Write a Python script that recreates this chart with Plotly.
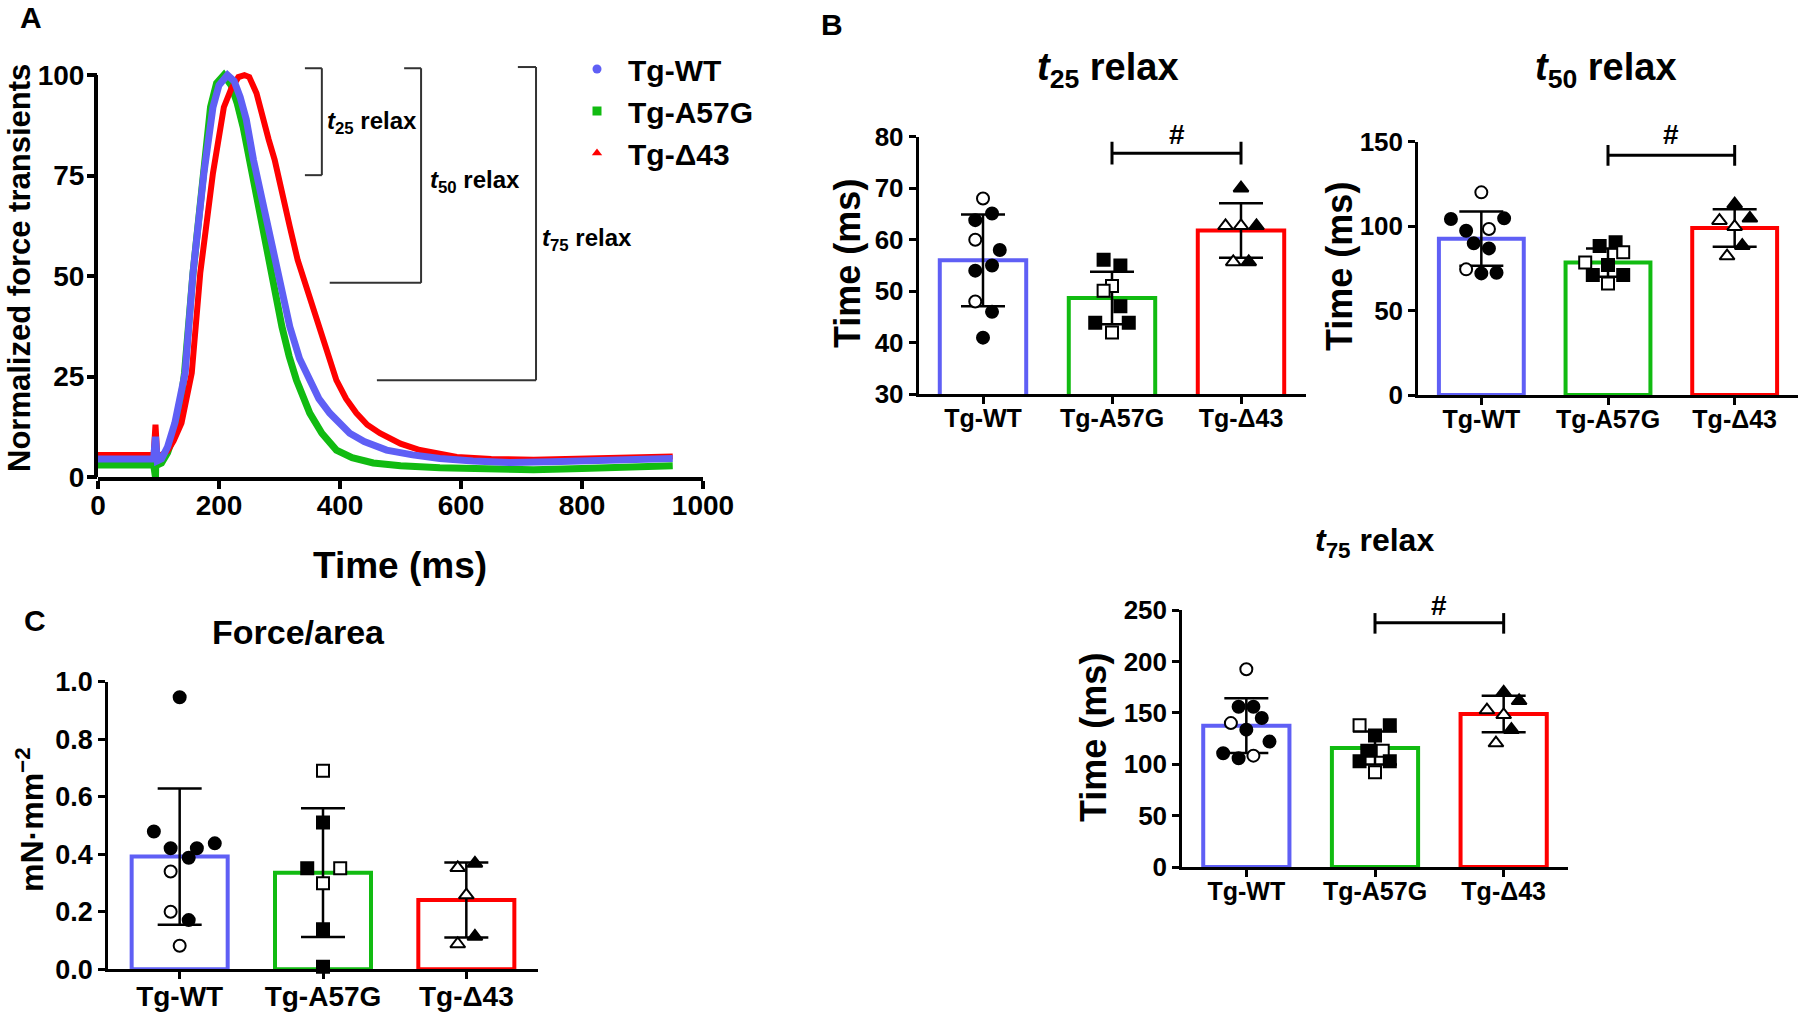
import plotly.graph_objects as go

W, H = 1800, 1012
FONT = "Liberation Sans, Arial, sans-serif"

groups = ["Tg-WT", "Tg-A57G", "Tg-Δ43"]
colors = ["#5F5FF5", "#11BB11", "#FF0000"]
symbols = ["circle", "square", "triangle-up"]

# ---------------- Panel A: normalized force transients ----------------
wt_time = [0, 50, 92, 95, 98, 105, 115, 127, 144, 157, 175, 190, 200, 214, 225, 235, 245, 257, 270, 281,
           291, 301, 317, 333, 350, 365, 383, 400, 416, 440, 477, 520, 565, 620, 680, 750, 850, 950]
wt_force = [4.5, 4.5, 4.5, 10, 4, 4.5, 7.5, 13.4, 25.9, 50.7, 75.6, 92, 97.5, 100, 98.5, 94.5, 89, 78.9, 70, 62.3,
            55, 48.3, 37.4, 29.5, 24.1, 19.5, 15.9, 13.2, 10.9, 8.8, 6.7, 5.5, 4.6, 4.0, 3.6, 3.8, 4.3, 4.6]

a57g_time = [0, 50, 92, 95, 96, 98, 105, 115, 132, 143, 157, 173, 186, 196, 208, 220, 230, 240, 253, 263,
             273, 289, 304, 316, 328, 350, 370, 394, 420, 455, 500, 565, 650, 720, 800, 880, 950]
a57g_force = [3, 3, 3, 0, 7, 3, 3.5, 6, 13.4, 25.9, 50.7, 75.6, 92, 98, 100, 97.5, 93, 87, 77, 69,
              62.3, 48.3, 37.4, 30, 24.1, 15.9, 10.9, 6.7, 4.8, 3.5, 2.8, 2.3, 1.9, 1.8, 2.1, 2.5, 2.8]

d43_time = [0, 50, 92, 95, 98, 105, 115, 125, 138, 155, 169, 190, 208, 220, 232, 242, 250, 262, 272, 282,
            292, 305, 317, 330, 342, 353, 364, 380, 394, 410, 427, 445, 466, 500, 532, 593, 650, 720, 800, 880, 950]
d43_force = [5.5, 5.5, 5.5, 13, 5, 5.5, 6.5, 9, 13.4, 25.9, 50.7, 75.6, 92, 96.5, 99.5, 100, 99.5, 95.5, 89, 84,
             78.9, 71, 62.3, 54, 48.3, 42.5, 37.4, 30, 24.1, 19.5, 15.9, 13, 10.9, 8.3, 6.7, 5, 4.5, 4.3, 4.5, 4.8, 5.1]

# relaxation brackets: [x_left_top, x_vertical, x_left_bottom, y_top, y_bottom]
bracket_t25 = [342, 370, 342, 101.7, 75.1]
bracket_t50 = [506, 534, 383, 101.7, 48.3]
bracket_t75 = [694, 724, 461, 102.0, 24.1]
bracket_labels = ["25", "50", "75"]
bracket_label_pos = [[375, 88.3], [545, 73.4], [731, 59.2]]

# ---------------- Panel B: t25 relax ----------------
t25_mean = [56.0, 48.7, 61.8]
t25_sd = [8.9, 5.1, 5.3]
t25_wt = [68, 65.1, 63.8, 60, 58, 55, 54, 48, 46, 41]
t25_a57g = [56.1, 55, 51, 50.1, 47.1, 43.9, 43.9, 42]
t25_d43 = [70, 62.7, 62.7, 62.7, 55.7, 55.7]
t25_open = [[1, 0, 0, 1, 0, 0, 0, 1, 0, 0], [0, 0, 1, 1, 0, 0, 0, 1], [0, 1, 1, 0, 1, 0]]
t25_dx = [[0, 0.07, -0.06, -0.06, 0.13, 0.07, -0.06, -0.06, 0.07, 0],
          [-0.065, 0.065, 0, -0.065, 0.065, -0.13, 0.13, 0],
          [0, -0.12, 0, 0.12, -0.06, 0.06]]
t25_sig = [76.8, 74.6, 79.0]

# ---------------- Panel B: t50 relax ----------------
t50_mean = [92.6, 78.4, 98.9]
t50_sd = [16.1, 8.4, 11.1]
t50_wt = [120, 104.2, 104.6, 97.3, 98.3, 89.8, 86.8, 74.4, 72, 72.4]
t50_a57g = [88.2, 90.4, 84.5, 78.4, 77, 71, 71, 66.1]
t50_d43 = [113, 103.2, 104.6, 99.7, 88.4, 82.3]
t50_open = [[1, 0, 0, 0, 1, 0, 0, 1, 0, 0], [0, 0, 1, 1, 0, 0, 0, 1], [0, 1, 0, 1, 0, 1]]
t50_dx = [[0, -0.24, 0.18, -0.12, 0.06, -0.06, 0.06, -0.12, 0, 0.12],
          [-0.066, 0.06, 0.12, -0.18, 0, -0.12, 0.12, 0],
          [0, -0.12, 0.12, 0, 0.06, -0.06]]
t50_sig = [142, 135.8, 148]

# ---------------- Panel B: t75 relax ----------------
t75_mean = [137.5, 115.8, 148.8]
t75_sd = [26.7, 16.0, 17.8]
t75_wt = [192.4, 155.9, 155.9, 145, 140, 133.6, 122, 110.6, 105.8, 108.3]
t75_a57g = [138, 138, 127.8, 113.2, 113.2, 102.8, 102.8, 92.2]
t75_d43 = [169.8, 161.7, 152.7, 148, 133.6, 120.6]
t75_open = [[1, 0, 0, 0, 1, 0, 0, 0, 0, 1], [1, 0, 0, 0, 1, 0, 0, 1], [0, 0, 1, 1, 0, 1]]
t75_dx = [[0, -0.06, 0.055, 0.12, -0.12, 0, 0.18, -0.18, -0.06, 0.055],
          [-0.12, 0.115, 0, -0.06, 0.06, -0.12, 0.115, 0],
          [0, 0.12, -0.13, 0, 0.06, -0.06]]
t75_sig = [237.7, 227, 247]

# ---------------- Panel C: Force/area ----------------
fa_mean = [0.392, 0.336, 0.241]
fa_sd = [0.237, 0.224, 0.13]
fa_wt = [0.946, 0.479, 0.438, 0.421, 0.421, 0.388, 0.34, 0.2, 0.171, 0.082]
fa_a57g = [0.69, 0.51, 0.351, 0.351, 0.299, 0.139, 0.009]
fa_d43 = [0.353, 0.368, 0.258, 0.114, 0.088]
fa_open = [[0, 0, 0, 0, 0, 0, 1, 1, 0, 1], [1, 0, 0, 1, 1, 0, 0], [1, 0, 1, 0, 1]]
fa_dx = [[0, -0.18, 0.245, -0.063, 0.12, 0.063, -0.063, -0.063, 0.063, 0],
         [0, 0, -0.11, 0.12, 0, 0, 0],
         [-0.06, 0.06, 0, 0.06, -0.06]]

# =====================================================================
fig = go.Figure()
layout = {}
shapes = []
annotations = []


def fnt(size, weight="bold", color="black"):
    return dict(family=FONT, size=size, color=color, weight=weight)


def ann(text, xpx, ypx, size, angle=0, xanchor="center", yanchor="middle"):
    annotations.append(dict(text=text, x=xpx / W, y=1 - ypx / H, xref="paper", yref="paper",
                            showarrow=False, font=fnt(size), textangle=angle,
                            xanchor=xanchor, yanchor=yanchor))


# ---------- Panel A ----------
A_X = (98, 703)
A_Y = (59, 477)  # top (y=104), bottom (y=0)
layout["xaxis"] = dict(domain=[A_X[0] / W, A_X[1] / W], anchor="y", range=[0, 1000], dtick=200,
                       showline=True, linewidth=4, linecolor="black", ticks="outside", ticklen=8,
                       tickwidth=3.5, tickcolor="black", tickfont=fnt(28), showgrid=False,
                       zeroline=False, automargin=False, ticklabelstandoff=-8)
layout["yaxis"] = dict(domain=[1 - A_Y[1] / H, 1 - A_Y[0] / H], anchor="x", range=[0, 104],
                       tickvals=[0, 25, 50, 75, 100], showline=False, ticks="outside", ticklen=10,
                       tickwidth=3.5, tickcolor="black", tickfont=fnt(28), showgrid=False,
                       zeroline=False, automargin=False, ticklabelstandoff=-3)
# y spine only up to 100
shapes.append(dict(type="line", xref="paper", yref="y", x0=(A_X[0] - 2) / W, x1=(A_X[0] - 2) / W,
                   y0=-1, y1=100, line=dict(color="black", width=4)))

for t, f, c, w in [(a57g_time, a57g_force, colors[1], 7), (d43_time, d43_force, colors[2], 6),
                   (wt_time, wt_force, colors[0], 7)]:
    fig.add_trace(go.Scatter(x=t, y=f, mode="lines", line=dict(color=c, width=w),
                             showlegend=False, xaxis="x", yaxis="y", hoverinfo="skip"))

for i, g in enumerate(groups):
    fig.add_trace(go.Scatter(x=[None], y=[None], mode="markers", name=g,
                             marker=dict(symbol=symbols[i], color=colors[i], size=9),
                             xaxis="x", yaxis="y", showlegend=True))

for br in [bracket_t25, bracket_t50, bracket_t75]:
    xl_top, xv, xl_bot, yt, yb = br
    ln = dict(color="#333333", width=2)
    shapes.append(dict(type="line", xref="x", yref="y", x0=xl_top, x1=xv, y0=yt, y1=yt, line=ln))
    shapes.append(dict(type="line", xref="x", yref="y", x0=xv, x1=xv, y0=yt, y1=yb, line=ln))
    shapes.append(dict(type="line", xref="x", yref="y", x0=xl_bot, x1=xv, y0=yb, y1=yb, line=ln))

for lab, (bx, by) in zip(bracket_labels, bracket_label_pos):
    annotations.append(dict(text=f"<i>t</i><sub>{lab}</sub> relax", x=bx, y=by, xref="x", yref="y",
                            showarrow=False, xanchor="left", yanchor="middle", font=fnt(24)))

ann("Normalized force transients", 19, 268, 31, angle=-90)
ann("Time (ms)", 400, 565, 37)

# ---------- bar panels ----------
bar_panels = [
    dict(n=2, mean=t25_mean, sd=t25_sd, vals=[t25_wt, t25_a57g, t25_d43], op=t25_open, dx=t25_dx,
         xpx=(918.5, 1305.5), ypx=(136.7, 394.3), yr=[30, 80], dtick=10, sig=t25_sig, sigshift=19,
         tf=26, cf=25, title="<i>t</i><sub>25</sub> relax", tsize=38, tpos=(1108, 70),
         ytitle="Time (ms)", ytpos=(847, 264), ytsize=36),
    dict(n=3, mean=t50_mean, sd=t50_sd, vals=[t50_wt, t50_a57g, t50_d43], op=t50_open, dx=t50_dx,
         xpx=(1418, 1798), ypx=(141.7, 395), yr=[0, 150], dtick=50, sig=t50_sig, sigshift=21,
         tf=26, cf=25, title="<i>t</i><sub>50</sub> relax", tsize=38, tpos=(1606, 70),
         ytitle="Time (ms)", ytpos=(1340, 267), ytsize=36),
    dict(n=4, mean=t75_mean, sd=t75_sd, vals=[t75_wt, t75_a57g, t75_d43], op=t75_open, dx=t75_dx,
         xpx=(1182, 1568), ypx=(610, 867), yr=[0, 250], dtick=50, sig=t75_sig, sigshift=17,
         tf=26, cf=25, title="<i>t</i><sub>75</sub> relax", tsize=32, tpos=(1374, 542),
         ytitle="Time (ms)", ytpos=(1093, 738), ytsize=36),
    dict(n=5, mean=fa_mean, sd=fa_sd, vals=[fa_wt, fa_a57g, fa_d43], op=fa_open, dx=fa_dx,
         xpx=(108, 538), ypx=(681.7, 969.3), yr=[0, 1.0], dtick=0.2, sig=None, sigshift=0,
         tf=27, cf=28, title="Force/area", tsize=34, tpos=(298, 632),
         ytitle="mN·mm<sup>−2</sup>", ytpos=(30, 820), ytsize=32),
]

for p in bar_panels:
    n = p["n"]
    xa, ya = f"x{n}", f"y{n}"
    layout[f"xaxis{n}"] = dict(domain=[p["xpx"][0] / W, p["xpx"][1] / W], anchor=ya, range=[-0.5, 2.5],
                               tickvals=[0, 1, 2], ticktext=groups, showline=True, linewidth=2.5,
                               linecolor="black", ticks="outside", ticklen=7, tickwidth=2.5,
                               tickcolor="black", tickfont=fnt(p["cf"]), showgrid=False,
                               zeroline=False, automargin=False, ticklabelstandoff=-7)
    ytick_fmt = ".1f" if n == 5 else ""
    layout[f"yaxis{n}"] = dict(domain=[1 - p["ypx"][1] / H, 1 - p["ypx"][0] / H], anchor=xa,
                               range=p["yr"], dtick=p["dtick"], tickformat=ytick_fmt, showline=True,
                               linewidth=2.5, linecolor="black", ticks="outside", ticklen=7,
                               tickwidth=2.5, tickcolor="black", tickfont=fnt(p["tf"]),
                               showgrid=False, zeroline=False, automargin=False)
    fig.add_trace(go.Bar(x=[0, 1, 2], y=p["mean"], width=0.67,
                         marker=dict(color="white", line=dict(color=colors, width=4)),
                         error_y=dict(type="data", array=p["sd"], color="black", thickness=2.5, width=22),
                         xaxis=xa, yaxis=ya, showlegend=False, hoverinfo="skip"))
    for g in range(3):
        fig.add_trace(go.Scatter(
            x=[g + d for d in p["dx"][g]], y=p["vals"][g], mode="markers",
            marker=dict(symbol=symbols[g], size=12 if g != 2 else 13,
                        color=["white" if o else "black" for o in p["op"][g]],
                        line=dict(color="black", width=2)),
            cliponaxis=False, xaxis=xa, yaxis=ya, showlegend=False, hoverinfo="skip"))
    if p["sig"] is not None:
        yl, lo, hi = p["sig"]
        ln = dict(color="black", width=3)
        shapes.append(dict(type="line", xref=xa, yref=ya, x0=1, x1=2, y0=yl, y1=yl, line=ln))
        shapes.append(dict(type="line", xref=xa, yref=ya, x0=1, x1=1, y0=lo, y1=hi, line=ln))
        shapes.append(dict(type="line", xref=xa, yref=ya, x0=2, x1=2, y0=lo, y1=hi, line=ln))
        annotations.append(dict(text="#", x=1.5, y=yl, xref=xa, yref=ya, showarrow=False,
                                yshift=p["sigshift"], yanchor="middle", font=fnt(28)))
    ann(p["title"], p["tpos"][0], p["tpos"][1], p["tsize"])
    ann(p["ytitle"], p["ytpos"][0], p["ytpos"][1], p["ytsize"], angle=-90)

# panel letters
ann("A", 31, 17, 30)
ann("B", 832, 25, 30)
ann("C", 35, 620, 30)

fig.update_layout(
    width=W, height=H, margin=dict(l=0, r=0, t=0, b=0, pad=0, autoexpand=False),
    paper_bgcolor="white", plot_bgcolor="white",
    font=dict(family=FONT, color="black"),
    shapes=shapes, annotations=annotations,
    legend=dict(x=566 / W, y=1 - 43 / H, xanchor="left", yanchor="top", font=fnt(30),
                itemwidth=52, tracegroupgap=0, bgcolor="rgba(0,0,0,0)"),
    bargap=0.3,
    **layout,
)

fig.write_html(
    "out.html",
    config={"displayModeBar": False},
    post_script="document.body.style.margin='0px';document.body.style.padding='0px';"
                "document.documentElement.style.overflow='hidden';",
)
